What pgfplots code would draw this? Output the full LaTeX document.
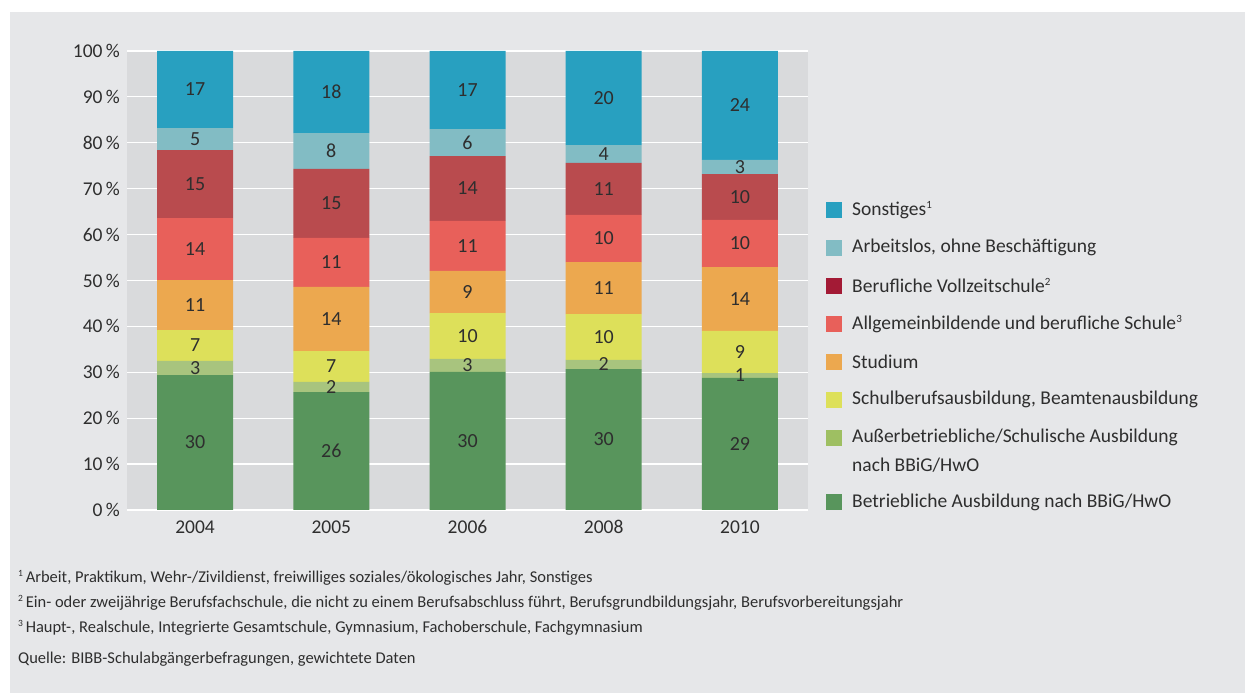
\documentclass[border=0pt]{standalone}
\usepackage{pgfplots}
\pgfplotsset{compat=1.18}
\usepackage{pgfplotstable}
\usepackage{fontspec}
\setmainfont{Carlito}

\definecolor{bggray}{HTML}{E6E7E9}
\definecolor{plotgray}{HTML}{D9DADC}
\definecolor{txt}{HTML}{2E2E2E}
\definecolor{cSon}{HTML}{28A0C0}
\definecolor{cArb}{HTML}{82BCC4}
\definecolor{cVoll}{HTML}{B94B4E}
\definecolor{cVollL}{HTML}{A31A35}
\definecolor{cAllg}{HTML}{E8605A}
\definecolor{cStud}{HTML}{ECA84F}
\definecolor{cSchb}{HTML}{DDE05A}
\definecolor{cAuss}{HTML}{A8C47E}
\definecolor{cAussL}{HTML}{9EBF62}
\definecolor{cBetr}{HTML}{58955C}

\newcommand\lsup[1]{\raisebox{0.75ex}{\fontsize{11}{11}\selectfont #1}}
\newcommand\fsup[1]{\raisebox{0.8ex}{\fontsize{9.5}{10}\selectfont #1}}

% segment heights, labels as printed
\pgfplotstableread{
x y lab
0 29.4 30
1 25.7 26
2 30.1 30
3 30.7 30
4 28.8 29
}\betr
\pgfplotstableread{
x y lab
0 3.1 3
1 2.2 2
2 2.8 3
3 2.0 2
4 1.0 1
}\auss
\pgfplotstableread{
x y lab
0 6.7 7
1 6.7 7
2 10.0 10
3 10.0 10
4 9.2 9
}\schb
\pgfplotstableread{
x y lab
0 10.9 11
1 14.0 14
2 9.2 9
3 11.3 11
4 13.9 14
}\stud
\pgfplotstableread{
x y lab
0 13.5 14
1 10.7 11
2 10.9 11
3 10.3 10
4 10.3 10
}\allg
\pgfplotstableread{
x y lab
0 14.8 15
1 15.0 15
2 14.1 14
3 11.3 11
4 10.0 10
}\voll
\pgfplotstableread{
x y lab
0 4.8 5
1 7.8 8
2 5.9 6
3 3.9 4
4 3.1 3
}\arb
\pgfplotstableread{
x y lab
0 16.8 17
1 17.9 18
2 17.0 17
3 20.5 20
4 23.7 24
}\son

\begin{document}
\begin{tikzpicture}
\useasboundingbox (0,0) rectangle (1245pt,693pt);
\fill[white] (0,0) rectangle (1245pt,693pt);
\fill[bggray] (10pt,0) rectangle (1245pt,681pt);

\begin{axis}[
  at={(127pt,183pt)}, anchor=south west,
  scale only axis, width=681pt, height=459pt,
  ybar stacked, bar width=76pt,
  xmin=-0.5, xmax=4.5, ymin=0, ymax=100,
  xtick={0,...,4}, xticklabels={2004,2005,2006,2008,2010},
  ytick={0,10,...,100},
  yticklabel={\pgfmathprintnumber[assume math mode=true]{\tick}\,\%},
  axis background/.style={fill=plotgray},
  axis line style={draw=none}, major tick length=0pt,
  ymajorgrids, grid style={white, line width=1.2pt},
  tick label style={font=\fontsize{19.5}{22}\selectfont, text=txt},
  yticklabel style={anchor=east, inner sep=0pt, xshift=-7pt},
  xticklabel style={anchor=north, inner sep=0pt, yshift=-10.5pt,
    text height=13pt, text depth=0pt},
  seg/.style={draw=none, point meta=explicit symbolic,
    nodes near coords,
    every node near coord/.style={anchor=center, inner sep=0pt,
      font=\fontsize{20}{22}\selectfont, text=txt}},
]
\addplot[seg, fill=cBetr] table[x=x, y=y, meta=lab] {\betr};
\addplot[seg, fill=cAuss] table[x=x, y=y, meta=lab] {\auss};
\addplot[seg, fill=cSchb] table[x=x, y=y, meta=lab] {\schb};
\addplot[seg, fill=cStud] table[x=x, y=y, meta=lab] {\stud};
\addplot[seg, fill=cAllg] table[x=x, y=y, meta=lab] {\allg};
\addplot[seg, fill=cVoll] table[x=x, y=y, meta=lab] {\voll};
\addplot[seg, fill=cArb] table[x=x, y=y, meta=lab] {\arb};
\addplot[seg, fill=cSon] table[x=x, y=y, meta=lab] {\son};
\end{axis}

% legend
\begin{scope}[every node/.style={anchor=west, inner sep=0pt, text=txt,
    font=\fontsize{19.5}{27}\selectfont}]
\fill[cSon]   (826pt,475pt) rectangle ++(16pt,16pt);
\node at (852pt,483pt) {Sonstiges\lsup{1}};
\fill[cArb]   (826pt,437.3pt) rectangle ++(16pt,16pt);
\node at (852pt,445.3pt) {Arbeitslos, ohne Beschäftigung};
\fill[cVollL] (826pt,399.3pt) rectangle ++(16pt,16pt);
\node at (852pt,407.3pt) {Berufliche Vollzeitschule\lsup{2}};
\fill[cAllg]  (826pt,361.3pt) rectangle ++(16pt,16pt);
\node at (852pt,369.3pt) {Allgemeinbildende und berufliche Schule\lsup{3}};
\fill[cStud]  (826pt,323.3pt) rectangle ++(16pt,16pt);
\node at (852pt,331.3pt) {Studium};
\fill[cSchb]  (826pt,285.3pt) rectangle ++(16pt,16pt);
\node at (852pt,293.3pt) {Schulberufsausbildung, Beamtenausbildung};
\fill[cAussL] (826pt,247.3pt) rectangle ++(16pt,16pt);
\node at (852pt,255.3pt) {Außerbetriebliche/Schulische Ausbildung};
\node at (852pt,228pt) {nach BBiG/HwO};
\fill[cBetr]  (826pt,182.7pt) rectangle ++(16pt,16pt);
\node at (852pt,190.7pt) {Betriebliche Ausbildung nach BBiG/HwO};
\end{scope}

% footnotes
\begin{scope}[every node/.style={anchor=west, inner sep=0pt, text=txt,
    font=\fontsize{16.5}{18}\selectfont}]
\node at (18pt,115pt) {\fsup{1}\,Arbeit, Praktikum, Wehr-/Zivildienst, freiwilliges soziales/ökologisches Jahr, Sonstiges};
\node at (18pt,90pt) {\fsup{2}\,Ein- oder zweijährige Berufsfachschule, die nicht zu einem Berufsabschluss führt, Berufsgrundbildungsjahr, Berufsvorbereitungsjahr};
\node at (18pt,65pt) {\fsup{3}\,Haupt-, Realschule, Integrierte Gesamtschule, Gymnasium, Fachoberschule, Fachgymnasium};
\node at (18pt,34pt) {Quelle: BIBB-Schulabgängerbefragungen, gewichtete Daten};
\end{scope}
\end{tikzpicture}
\end{document}
